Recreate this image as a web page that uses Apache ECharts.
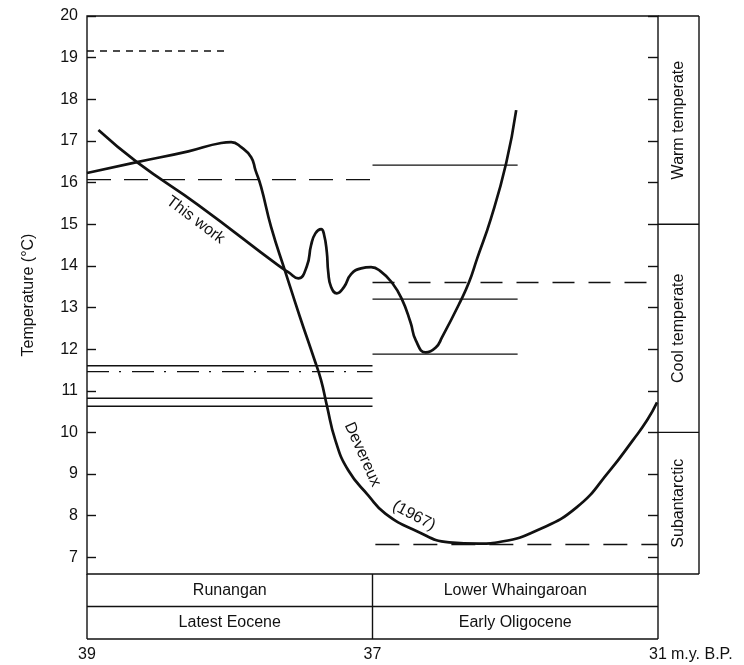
<!DOCTYPE html>
<html>
<head>
<meta charset="utf-8">
<script src="https://cdn.jsdelivr.net/npm/echarts@6/dist/echarts.min.js"></script>
<style>
  html, body { margin: 0; padding: 0; background: #fff; }
  #chart { width: 744px; height: 665px; }
</style>
</head>
<body>
<div id="chart"></div>
<script>
// ages in m.y. B.P., temperatures in ºC
const ageTicks = [39, 37, 31];
const tempTicks = [7, 8, 9, 10, 11, 12, 13, 14, 15, 16, 17, 18, 19, 20];
const tempMin = 6.6;
const tempMax = 20;

const thisWorkAge = [38.92, 38.65, 38.22, 37.66, 37.59, 37.52, 37.46, 37.43, 37.40, 37.36, 37.34, 37.32, 37.31, 37.29, 37.25, 37.20, 37.15, 37.08, 37.01, 36.81, 36.60, 36.39, 36.20, 36.09, 35.88, 35.67, 35.54, 35.16, 34.97, 34.80, 34.51, 34.19, 33.98];
const thisWorkTemp = [17.26, 16.49, 15.46, 14.01, 13.85, 13.70, 13.99, 14.50, 14.78, 14.88, 14.76, 14.33, 13.85, 13.49, 13.34, 13.49, 13.80, 13.94, 13.97, 13.85, 13.61, 13.22, 12.64, 12.21, 11.92, 12.04, 12.28, 13.13, 13.61, 14.18, 15.14, 16.47, 17.74];

const devereuxAge = [39.00, 38.65, 38.29, 38.06, 37.99, 37.92, 37.85, 37.82, 37.78, 37.71, 37.61, 37.51, 37.41, 37.36, 37.32, 37.26, 37.17, 37.03, 36.73, 36.09, 35.39, 34.76, 34.28, 33.56, 32.71, 32.01, 31.53, 31.23, 31.02];
const devereuxTemp = [16.23, 16.49, 16.75, 16.95, 16.97, 16.85, 16.61, 16.30, 15.89, 14.93, 13.85, 12.79, 11.78, 11.25, 10.65, 9.81, 9.09, 8.49, 8.05, 7.64, 7.36, 7.33, 7.38, 7.64, 8.20, 9.09, 9.81, 10.29, 10.72];

// horizontal temperature levels
const levelTemp = [19.16, 16.07, 11.60, 11.46, 10.82, 10.63, 16.42, 13.60, 13.20, 11.88, 7.31];
const levelFrom = [39, 39, 39, 39, 39, 39, 37, 37, 37, 37, 36.94];
const levelTo = [38.02, 37, 37, 37, 37, 37, 33.95, 31, 33.95, 33.95, 31];

const zoneNames = ['Warm temperate', 'Cool temperate', 'Subantarctic'];
const zoneTop = [20, 15, 10];
const zoneBottom = [15, 10, 6.6];

const stageNames = ['Runangan', 'Lower Whaingaroan'];
const epochNames = ['Latest Eocene', 'Early Oligocene'];

// styles
const INK = '#111';
const FONT = '"Liberation Sans", Arial, Helvetica, sans-serif';
const levelDash = [[7, 6], [24, 13], 'solid', [22, 10, 2, 11], 'solid', 'solid', 'solid', [22, 14], 'solid', 'solid', [24, 14]];

// the time axis is broken at 37: 39-37 takes the left half, 37-31 the right half
function pos(age) {
  return age >= 37 ? (39 - age) / 2 : 1 + (37 - age) / 6;
}

const series = [];
levelTemp.forEach((t, i) => {
  series.push({
    type: 'line',
    silent: true,
    showSymbol: false,
    data: [[pos(levelFrom[i]), t], [pos(levelTo[i]), t]],
    lineStyle: { color: INK, width: 1.4, type: levelDash[i] }
  });
});
series.push({
  name: 'This work',
  type: 'line',
  smooth: 0.5,
  showSymbol: false,
  data: thisWorkAge.map((a, i) => [pos(a), thisWorkTemp[i]]),
  lineStyle: { color: INK, width: 2.7 }
});
series.push({
  name: 'Devereux (1967)',
  type: 'line',
  smooth: 0.5,
  showSymbol: false,
  data: devereuxAge.map((a, i) => [pos(a), devereuxTemp[i]]),
  lineStyle: { color: INK, width: 2.7 }
});

const chart = echarts.init(document.getElementById('chart'));
chart.setOption({
  animation: false,
  backgroundColor: '#fff',
  textStyle: { fontFamily: FONT, color: INK },
  grid: {
    left: 87, right: 86, top: 16, bottom: 91,
    show: true, borderColor: INK, borderWidth: 1.4, backgroundColor: 'transparent'
  },
  xAxis: {
    type: 'value', min: 0, max: 2,
    splitLine: { show: false },
    axisLine: { show: false },
    axisTick: { show: false },
    axisLabel: {
      customValues: ageTicks.map(pos),
      formatter: v => String(ageTicks.find(a => Math.abs(pos(a) - v) < 1e-6)),
      margin: 73, fontSize: 16, color: INK, fontFamily: FONT
    }
  },
  yAxis: [{
    type: 'value', min: tempMin, max: tempMax, position: 'left',
    splitLine: { show: false },
    axisLine: { show: false },
    axisTick: { inside: true, length: 9, customValues: tempTicks, lineStyle: { color: INK, width: 1.4 } },
    axisLabel: { customValues: tempTicks, margin: 9, fontSize: 16, color: INK, fontFamily: FONT },
    name: 'Temperature (°C)',
    nameLocation: 'middle', nameGap: 50,
    nameTextStyle: { fontSize: 16, color: INK, fontFamily: FONT }
  }, {
    type: 'value', min: tempMin, max: tempMax, position: 'right',
    splitLine: { show: false },
    axisLine: { show: false },
    axisTick: { inside: true, length: 10, customValues: tempTicks, lineStyle: { color: INK, width: 1.4 } },
    axisLabel: { show: false }
  }],
  series: series
});

// stage table, climate zones and curve labels placed from the axes
const px = (age, t) => chart.convertToPixel({ gridIndex: 0 }, [pos(age), t]);
const x39 = px(39, tempMin)[0], x37 = px(37, tempMin)[0], x31 = px(31, tempMin)[0];
const yb = px(39, tempMin)[1];
const rowH = 32.5;
const zoneW = 41;
const g = [];
const seg = (x1, y1, x2, y2) => g.push({
  type: 'line', silent: true,
  shape: { x1: x1, y1: y1, x2: x2, y2: y2 },
  style: { stroke: INK, lineWidth: 1.4 }
});
const txt = (s, x, y, size, rot) => g.push({
  type: 'text', silent: true, x: x, y: y, rotation: (rot || 0) * Math.PI / 180,
  style: { text: s, fill: INK, fontSize: size, fontFamily: FONT, align: 'center', verticalAlign: 'middle' }
});

[x39, x37, x31].forEach(x => seg(x, yb, x, yb + 2 * rowH));
seg(x39, yb + rowH, x31, yb + rowH);
seg(x39, yb + 2 * rowH, x31, yb + 2 * rowH);
stageNames.forEach((s, i) => {
  const xa = i === 0 ? x39 : x37, xb = i === 0 ? x37 : x31;
  txt(s, (xa + xb) / 2, yb + rowH / 2, 16);
  txt(epochNames[i], (xa + xb) / 2, yb + rowH * 1.5, 16);
});

const yTop = px(31, tempMax)[1];
seg(x31, yTop, x31 + zoneW, yTop);
seg(x31 + zoneW, yTop, x31 + zoneW, yb);
seg(x31, yb, x31 + zoneW, yb);
zoneNames.forEach((s, i) => {
  const y1 = px(31, zoneTop[i])[1], y2 = px(31, zoneBottom[i])[1];
  if (i > 0) seg(x31, y1, x31 + zoneW, y1);
  txt(s, x31 + zoneW / 2, (y1 + y2) / 2, 16, 90);
});

g.push({
  type: 'text', silent: true, x: x31 + 13, y: yb + 81,
  style: { text: 'm.y. B.P.', fill: INK, fontSize: 16, fontFamily: FONT, align: 'left', verticalAlign: 'middle' }
});

const lbl1 = px(38.24, 15.1);
txt('This work', lbl1[0], lbl1[1], 16, -37);
const lbl2 = px(37.07, 9.47);
txt('Devereux', lbl2[0], lbl2[1], 16, -66);
const lbl3 = px(36.13, 8.0);
txt('(1967)', lbl3[0], lbl3[1], 16, -28);

chart.setOption({ graphic: g });
</script>
</body>
</html>
